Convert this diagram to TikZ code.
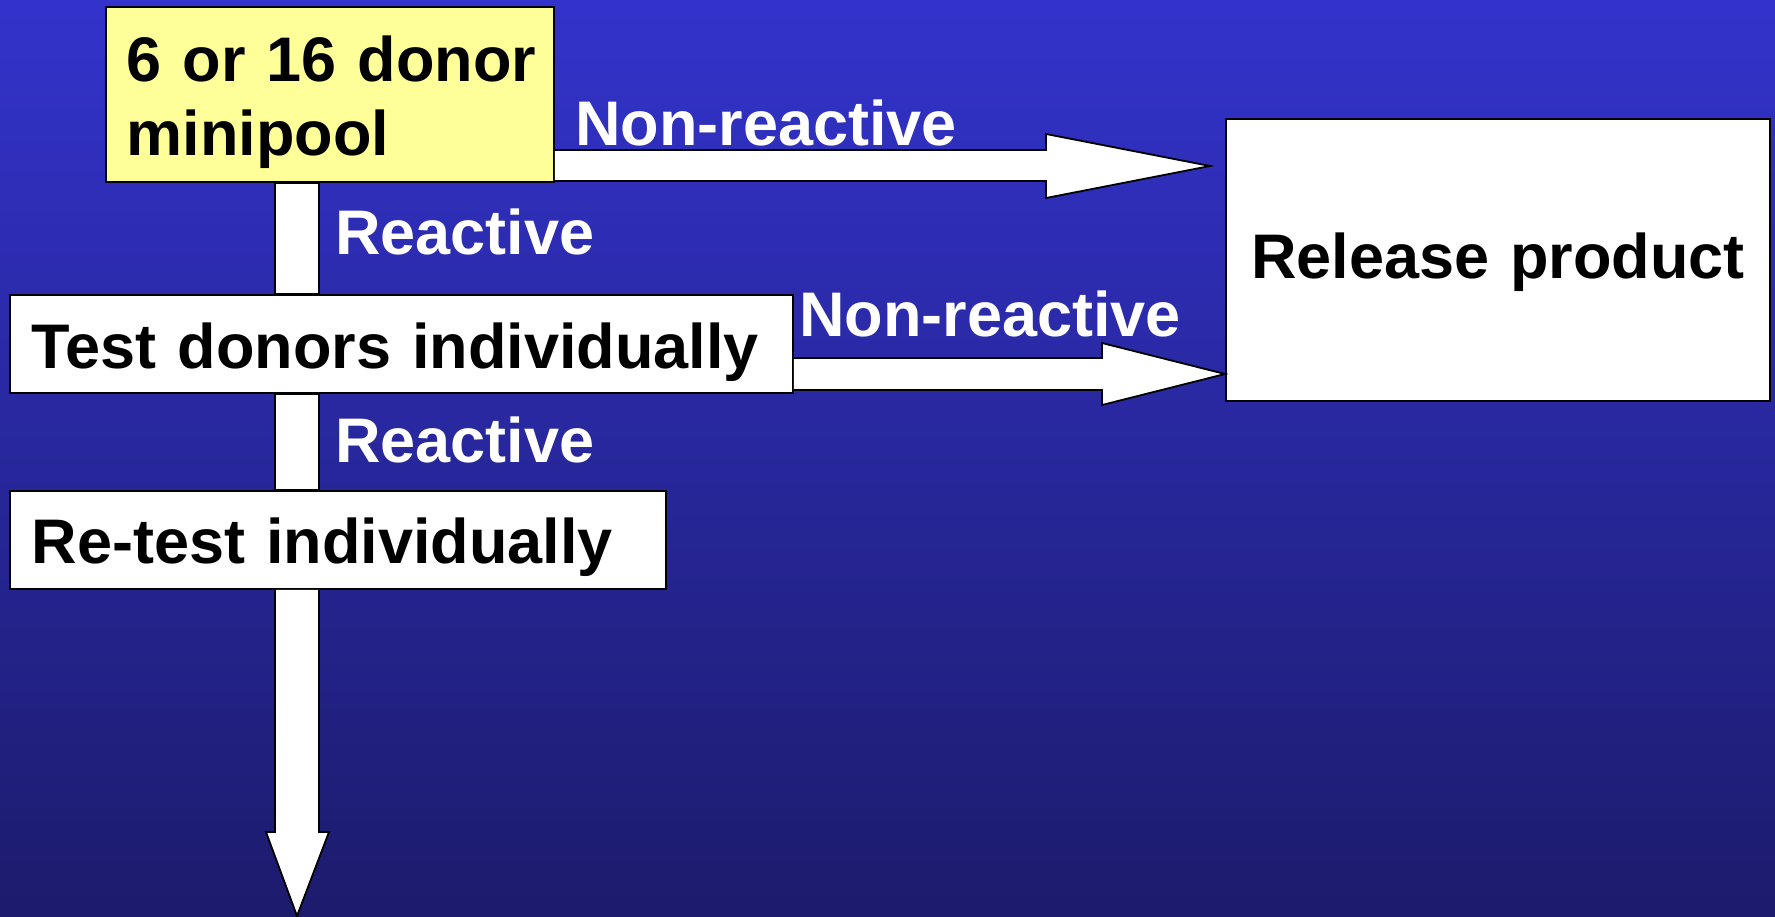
\documentclass[tikz,border=0pt]{standalone}
\usepackage{fontspec}
\setmainfont{Liberation Sans}
\definecolor{bgtop}{RGB}{51,51,204}
\definecolor{bgbot}{RGB}{28,27,108}
\definecolor{poolyellow}{RGB}{255,255,153}

\begin{document}
\begin{tikzpicture}[x=0.5pt,y=-0.5pt,
    box/.style={draw=black,line width=0.9pt,fill=white,anchor=north west,inner ysep=0pt,inner xsep=11pt,align=left,font=\fontsize{31.5}{37}\selectfont\bfseries},
    answer/.style={text=white,anchor=base west,inner sep=0pt,font=\fontsize{31.5}{37}\selectfont\bfseries},
    blockarrow/.style={draw=black,line width=0.9pt,fill=white,line join=miter}]
                \useasboundingbox (0,0) rectangle (1775,916);
                \shade[top color=bgtop,bottom color=bgbot] (0,0) rectangle (1775,916);

                \node[box,fill=poolyellow,inner xsep=10.5pt,text width=203pt,text height=37.5pt,text depth=50pt] (pool) at (105,6) {\mbox{6 or 16 donor}\\minipool};
                \node[box,text width=369.5pt,text height=37pt,text depth=12pt] (test) at (9,294) {Test donors individually};
                \node[box,text width=306pt,text height=36.5pt,text depth=12.5pt] (retest) at (9,490) {Re-test individually};
                \node[box,align=center,text width=250pt,text height=80pt,text depth=61pt] (release) at (1225,118) {Release product};
                \coordinate (gap) at (1210,166);
                \coordinate (drop) at (297,916);

                \draw[blockarrow] (275,0 |- pool.south) rectangle (319,0 |- test.north);
                \draw[blockarrow] (275,0 |- test.south) rectangle (319,0 |- retest.north);
                \draw[blockarrow] (275,0 |- retest.south) -- (275,832) -- (266,832) -- (drop) -- (329,832) -- (319,832) -- (319,0 |- retest.south);
                \draw[blockarrow] (pool.east |- 0,150) -- (1046,150) -- (1046,134) -- (gap) -- (1046,198) -- (1046,181) -- (pool.east |- 0,181);
                \draw[blockarrow] (test.east |- 0,358) -- (1102,358) -- (1102,343) -- (release.west |- 0,374) -- (1102,405) -- (1102,390) -- (test.east |- 0,390);

                \node[answer] (nr1) at (575,145) {Non-reactive};
                \node[answer] (r1) at (335,254) {Reactive};
                \node[answer] (nr2) at (799,336) {Non-reactive};
                \node[answer] (r2) at (335,462) {Reactive};
            \end{tikzpicture}
\end{document}
